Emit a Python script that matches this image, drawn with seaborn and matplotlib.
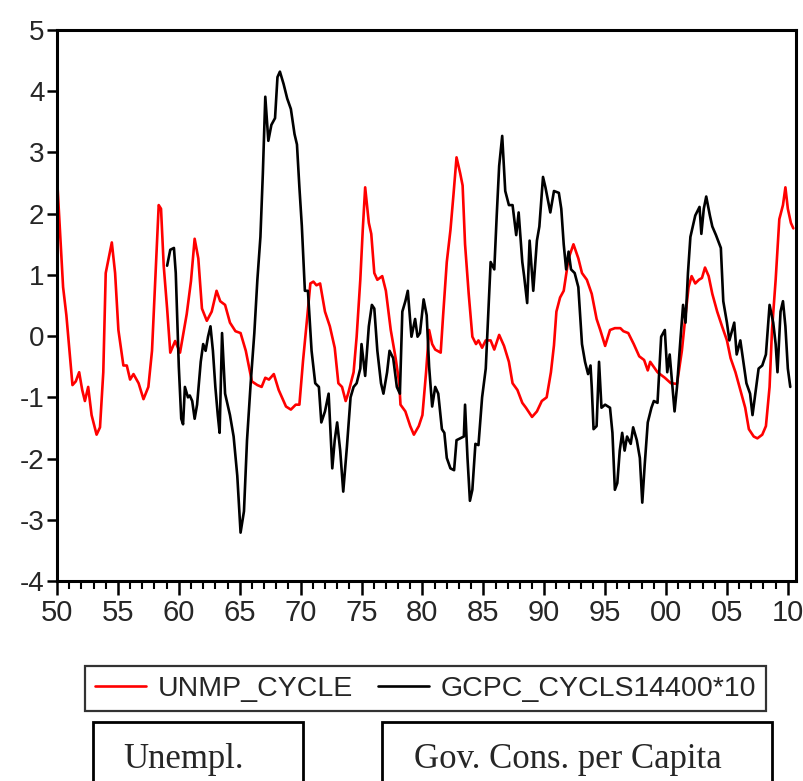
import numpy as np
import pandas as pd
import matplotlib
matplotlib.use("Agg")
import matplotlib.pyplot as plt
import seaborn as sns
from matplotlib.patches import Rectangle
from matplotlib.lines import Line2D

# ---------------- data ----------------
unmp_years = [1950.0, 1950.5, 1950.77, 1951.27, 1951.54, 1951.82, 1952.07, 1952.29, 1952.56, 1952.84,
              1953.25, 1953.53, 1953.8, 1954.0, 1954.5, 1954.77, 1955.04, 1955.45, 1955.73, 1956.0,
              1956.28, 1956.7, 1957.1, 1957.5, 1957.8, 1958.07, 1958.35, 1958.54, 1958.76, 1959.04,
              1959.3, 1959.7, 1960.1, 1960.65, 1961.0, 1961.3, 1961.6, 1961.9, 1962.3, 1962.7,
              1963.1, 1963.4, 1963.8, 1964.2, 1964.65, 1965.07, 1965.5, 1966.0, 1966.45, 1966.8,
              1967.1, 1967.4, 1967.8, 1968.2, 1968.8, 1969.2, 1969.6, 1969.9, 1970.2, 1970.5,
              1970.8, 1971.05, 1971.3, 1971.6, 1972.0, 1972.4, 1972.8, 1973.1, 1973.4, 1973.7,
              1973.9, 1974.35, 1974.6, 1974.9, 1975.1, 1975.3, 1975.6, 1975.8, 1976.05, 1976.3,
              1976.7, 1977.0, 1977.4, 1977.8, 1978.1, 1978.2, 1978.6, 1979.0, 1979.3, 1979.7,
              1980.0, 1980.3, 1980.55, 1980.8, 1981.05, 1981.5, 1981.7, 1982.0, 1982.3, 1982.55,
              1982.8, 1983.1, 1983.3, 1983.5, 1983.8, 1984.1, 1984.4, 1984.6, 1984.9, 1985.2,
              1985.6, 1985.9, 1986.3, 1986.7, 1987.1, 1987.4, 1987.8, 1988.2, 1988.5, 1988.7,
              1989.0, 1989.4, 1989.8, 1990.2, 1990.55, 1990.8, 1991.0, 1991.3, 1991.6, 1992.0,
              1992.4, 1992.8, 1993.1, 1993.5, 1993.9, 1994.3, 1994.6, 1995.0, 1995.4, 1995.8,
              1996.25, 1996.5, 1996.9, 1997.35, 1997.8, 1998.2, 1998.5, 1998.7, 1999.3, 1999.9,
              2000.4, 2000.9, 2001.3, 2001.6, 2001.85, 2002.1, 2002.4, 2002.7, 2002.95, 2003.2,
              2003.5, 2003.8, 2004.2, 2004.6, 2005.0, 2005.3, 2005.7, 2006.1, 2006.5, 2006.8,
              2007.2, 2007.5, 2007.9, 2008.2, 2008.5, 2008.7, 2009.0, 2009.3, 2009.6, 2009.8,
              2010.0, 2010.25, 2010.45]
unmp_cycle = [2.60, 0.80, 0.34, -0.80, -0.74, -0.59, -0.88, -1.06, -0.83, -1.29,
              -1.61, -1.49, -0.59, 1.03, 1.53, 1.03, 0.10, -0.48, -0.48, -0.71,
              -0.62, -0.77, -1.03, -0.83, -0.24, 0.92, 2.14, 2.08, 1.15, 0.45,
              -0.27, -0.08, -0.27, 0.36, 0.90, 1.59, 1.27, 0.45, 0.25, 0.40,
              0.74, 0.57, 0.51, 0.22, 0.08, 0.05, -0.24, -0.74, -0.80, -0.83,
              -0.68, -0.71, -0.62, -0.88, -1.15, -1.20, -1.12, -1.12, -0.40, 0.22,
              0.86, 0.89, 0.83, 0.86, 0.40, 0.16, -0.19, -0.77, -0.83, -1.06,
              -0.94, -0.59, -0.01, 0.92, 1.73, 2.43, 1.85, 1.67, 1.03, 0.92,
              0.98, 0.74, 0.10, -0.36, -0.77, -1.12, -1.23, -1.47, -1.61, -1.47,
              -1.29, -0.59, 0.10, -0.13, -0.22, -0.27, 0.34, 1.21, 1.73, 2.31,
              2.92, 2.66, 2.46, 1.50, 0.69, -0.01, -0.13, -0.07, -0.19, -0.07,
              -0.07, -0.22, 0.02, -0.16, -0.42, -0.77, -0.88, -1.09, -1.17, -1.23,
              -1.32, -1.23, -1.06, -1.00, -0.59, -0.15, 0.40, 0.63, 0.74, 1.27,
              1.50, 1.27, 1.03, 0.92, 0.69, 0.28, 0.10, -0.16, 0.10, 0.13,
              0.13, 0.08, 0.05, -0.13, -0.33, -0.39, -0.56, -0.42, -0.59, -0.68,
              -0.77, -0.78, -0.24, 0.34, 0.80, 0.98, 0.86, 0.92, 0.95, 1.12,
              0.98, 0.69, 0.40, 0.16, -0.07, -0.36, -0.59, -0.88, -1.17, -1.52,
              -1.64, -1.67, -1.61, -1.47, -0.83, 0.10, 0.92, 1.91, 2.14, 2.43,
              2.08, 1.85, 1.76]

gcpc_years = [1959.04, 1959.3, 1959.6, 1959.75, 1960.0, 1960.2, 1960.35, 1960.5, 1960.75, 1960.9,
              1961.1, 1961.3, 1961.5, 1961.8, 1962.0, 1962.2, 1962.4, 1962.6, 1962.8, 1963.0,
              1963.2, 1963.35, 1963.55, 1963.8, 1964.2, 1964.5, 1964.8, 1965.07, 1965.35, 1965.6,
              1965.9, 1966.2, 1966.45, 1966.7, 1966.9, 1967.1, 1967.35, 1967.6, 1967.9, 1968.1,
              1968.3, 1968.6, 1968.9, 1969.2, 1969.5, 1969.7, 1969.9, 1970.1, 1970.35, 1970.6,
              1970.9, 1971.2, 1971.5, 1971.7, 1972.0, 1972.3, 1972.6, 1972.8, 1973.0, 1973.25,
              1973.5, 1973.8, 1974.1, 1974.35, 1974.6, 1974.9, 1975.0, 1975.3, 1975.6, 1975.85,
              1976.05, 1976.3, 1976.6, 1976.8, 1977.1, 1977.3, 1977.6, 1977.9, 1978.15, 1978.35,
              1978.6, 1978.8, 1979.1, 1979.4, 1979.6, 1979.8, 1980.1, 1980.35, 1980.55, 1980.8,
              1981.05, 1981.3, 1981.6, 1981.8, 1982.0, 1982.3, 1982.6, 1982.8, 1983.1, 1983.4,
              1983.5, 1983.7, 1983.9, 1984.1, 1984.35, 1984.6, 1984.9, 1985.2, 1985.45, 1985.6,
              1985.9, 1986.1, 1986.3, 1986.55, 1986.8, 1987.1, 1987.4, 1987.7, 1987.9, 1988.2,
              1988.35, 1988.6, 1988.8, 1989.1, 1989.4, 1989.6, 1989.9, 1990.1, 1990.5, 1990.8,
              1991.2, 1991.4, 1991.6, 1991.8, 1992.0, 1992.2, 1992.5, 1992.8, 1993.1, 1993.35,
              1993.6, 1993.8, 1993.9, 1994.05, 1994.3, 1994.5, 1994.7, 1995.0, 1995.4, 1995.6,
              1995.8, 1996.0, 1996.2, 1996.4, 1996.6, 1996.8, 1997.1, 1997.3, 1997.6, 1997.85,
              1998.05, 1998.25, 1998.5, 1998.8, 1999.0, 1999.3, 1999.6, 1999.9, 2000.1, 2000.3,
              2000.55, 2000.7, 2000.9, 2001.2, 2001.4, 2001.6, 2001.8, 2002.0, 2002.4, 2002.75,
              2002.9, 2003.1, 2003.3, 2003.6, 2003.8, 2004.1, 2004.5, 2004.7, 2005.0, 2005.2,
              2005.6, 2005.8, 2006.1, 2006.35, 2006.6, 2006.9, 2007.1, 2007.4, 2007.6, 2007.9,
              2008.2, 2008.5, 2008.8, 2009.0, 2009.15, 2009.4, 2009.6, 2009.8, 2010.0, 2010.2]
gcpc_cycle = [1.15, 1.41, 1.44, 1.03, -0.50, -1.35, -1.44, -0.83, -1.00, -0.97,
              -1.06, -1.35, -1.12, -0.42, -0.13, -0.24, -0.01, 0.16, -0.24, -0.83,
              -1.29, -1.58, 0.05, -0.94, -1.29, -1.64, -2.28, -3.21, -2.86, -1.70,
              -0.77, 0.05, 0.92, 1.62, 2.66, 3.91, 3.19, 3.45, 3.56, 4.23,
              4.32, 4.12, 3.88, 3.71, 3.30, 3.13, 2.43, 1.80, 0.74, 0.74,
              -0.24, -0.77, -0.83, -1.41, -1.23, -0.94, -2.16, -1.70, -1.41, -1.87,
              -2.54, -1.81, -1.00, -0.83, -0.77, -0.53, -0.13, -0.65, 0.16, 0.51,
              0.45, -0.24, -0.77, -0.94, -0.59, -0.24, -0.36, -0.83, -0.94, 0.40,
              0.57, 0.74, -0.01, 0.28, -0.01, 0.05, 0.60, 0.34, -0.50, -1.15,
              -0.83, -0.94, -1.52, -1.58, -1.99, -2.16, -2.19, -1.70, -1.67, -1.64,
              -1.12, -1.99, -2.69, -2.51, -1.76, -1.78, -1.00, -0.53, 0.57, 1.21,
              1.09, 1.97, 2.78, 3.27, 2.37, 2.14, 2.14, 1.65, 2.02, 1.21,
              0.98, 0.54, 1.56, 0.74, 1.56, 1.79, 2.60, 2.43, 2.02, 2.37,
              2.34, 2.08, 1.50, 1.09, 1.38, 1.09, 1.03, 0.80, -0.13, -0.42,
              -0.62, -0.48, -0.83, -1.52, -1.47, -0.42, -1.17, -1.12, -1.17, -1.58,
              -2.51, -2.40, -1.87, -1.58, -1.87, -1.64, -1.76, -1.49, -1.70, -1.99,
              -2.72, -2.10, -1.41, -1.17, -1.06, -1.09, -0.01, 0.10, -0.59, -0.30,
              -0.88, -1.23, -0.83, -0.01, 0.51, 0.22, 1.03, 1.62, 1.97, 2.11,
              1.67, 2.08, 2.28, 1.97, 1.79, 1.65, 1.44, 0.57, 0.22, -0.07,
              0.22, -0.30, -0.07, -0.42, -0.77, -0.94, -1.29, -0.83, -0.53, -0.48,
              -0.30, 0.51, 0.22, -0.13, -0.59, 0.40, 0.57, 0.16, -0.53, -0.83]

series_names = ["UNMP_CYCLE", "GCPC_CYCLS14400*10"]
series_colors = ["#ff0000", "#000000"]
x_tick_years = list(range(1950, 2011, 5))
x_tick_labels = ["50", "55", "60", "65", "70", "75", "80", "85", "90", "95", "00", "05", "10"]
y_ticks = [-4, -3, -2, -1, 0, 1, 2, 3, 4, 5]
box_labels = ["Unempl.", "Gov. Cons. per Capita"]

# ---------------- style ----------------
sns.set_theme(style="ticks")
plt.rcParams["font.family"] = ["Liberation Sans", "DejaVu Sans"]

W, H = 804, 781
fig = plt.figure(figsize=(W / 100, H / 100), dpi=100)
ax = fig.add_axes([57 / W, 1 - 581 / H, (796 - 57) / W, (581 - 30) / H])

df_u = pd.DataFrame({"year": unmp_years, "value": unmp_cycle})
df_g = pd.DataFrame({"year": gcpc_years, "value": gcpc_cycle})
sns.lineplot(data=df_u, x="year", y="value", color=series_colors[0], lw=1.9, ax=ax,
             estimator=None, sort=False)
sns.lineplot(data=df_g, x="year", y="value", color=series_colors[1], lw=1.9, ax=ax,
             estimator=None, sort=False)

ax.set_xlim(1950, 2010.67)
ax.set_ylim(-4, 5)
ax.set_xlabel("")
ax.set_ylabel("")
for s in ax.spines.values():
    s.set_visible(True)
    s.set_linewidth(2.2)
    s.set_color("black")

ax.set_xticks(x_tick_years)
ax.set_xticklabels(x_tick_labels, fontsize=21)
ax.set_xticks(list(range(1950, 2011)), minor=True)
ax.tick_params(axis="x", which="major", direction="out", length=10, width=1.8, pad=3, color="black")
ax.tick_params(axis="x", which="minor", direction="out", length=6, width=1.5, color="black")
ax.set_yticks(y_ticks)
ax.set_yticklabels([str(v) for v in y_ticks], fontsize=20)
ax.tick_params(axis="y", which="major", direction="out", length=7, width=1.8, pad=2, color="black")
ax.tick_params(axis="y", which="minor", left=False)
ax.xaxis.get_major_ticks()[-1].tick1line.set_color("#2244dd")

# legend
handles = [Line2D([], [], color=c, lw=1.9) for c in series_colors]
leg = fig.legend(handles, series_names, loc="center", ncol=2,
                 bbox_to_anchor=(425.5 / W, 1 - 688.5 / H),
                 frameon=True, fancybox=False, borderpad=0.35,
                 handlelength=1.8, handletextpad=0.4, columnspacing=0.9,
                 prop={"size": 20.5})
leg.get_frame().set_edgecolor("black")
leg.get_frame().set_linewidth(1.6)

# lower boxes with serif labels
for (x0, x1, cx), lab in zip([(93, 303, 184), (382, 772, 568)], box_labels):
    fig.patches.append(Rectangle((x0 / W, -0.05), (x1 - x0) / W, (1 - 722 / H) + 0.05,
                                 transform=fig.transFigure, fill=False, edgecolor="black",
                                 linewidth=2.0))
    fig.text(cx / W, 1 - 768 / H, lab, ha="center", va="baseline",
             family=["Liberation Serif", "DejaVu Serif"], fontsize=25)

fig.savefig("out.png", dpi=100)
